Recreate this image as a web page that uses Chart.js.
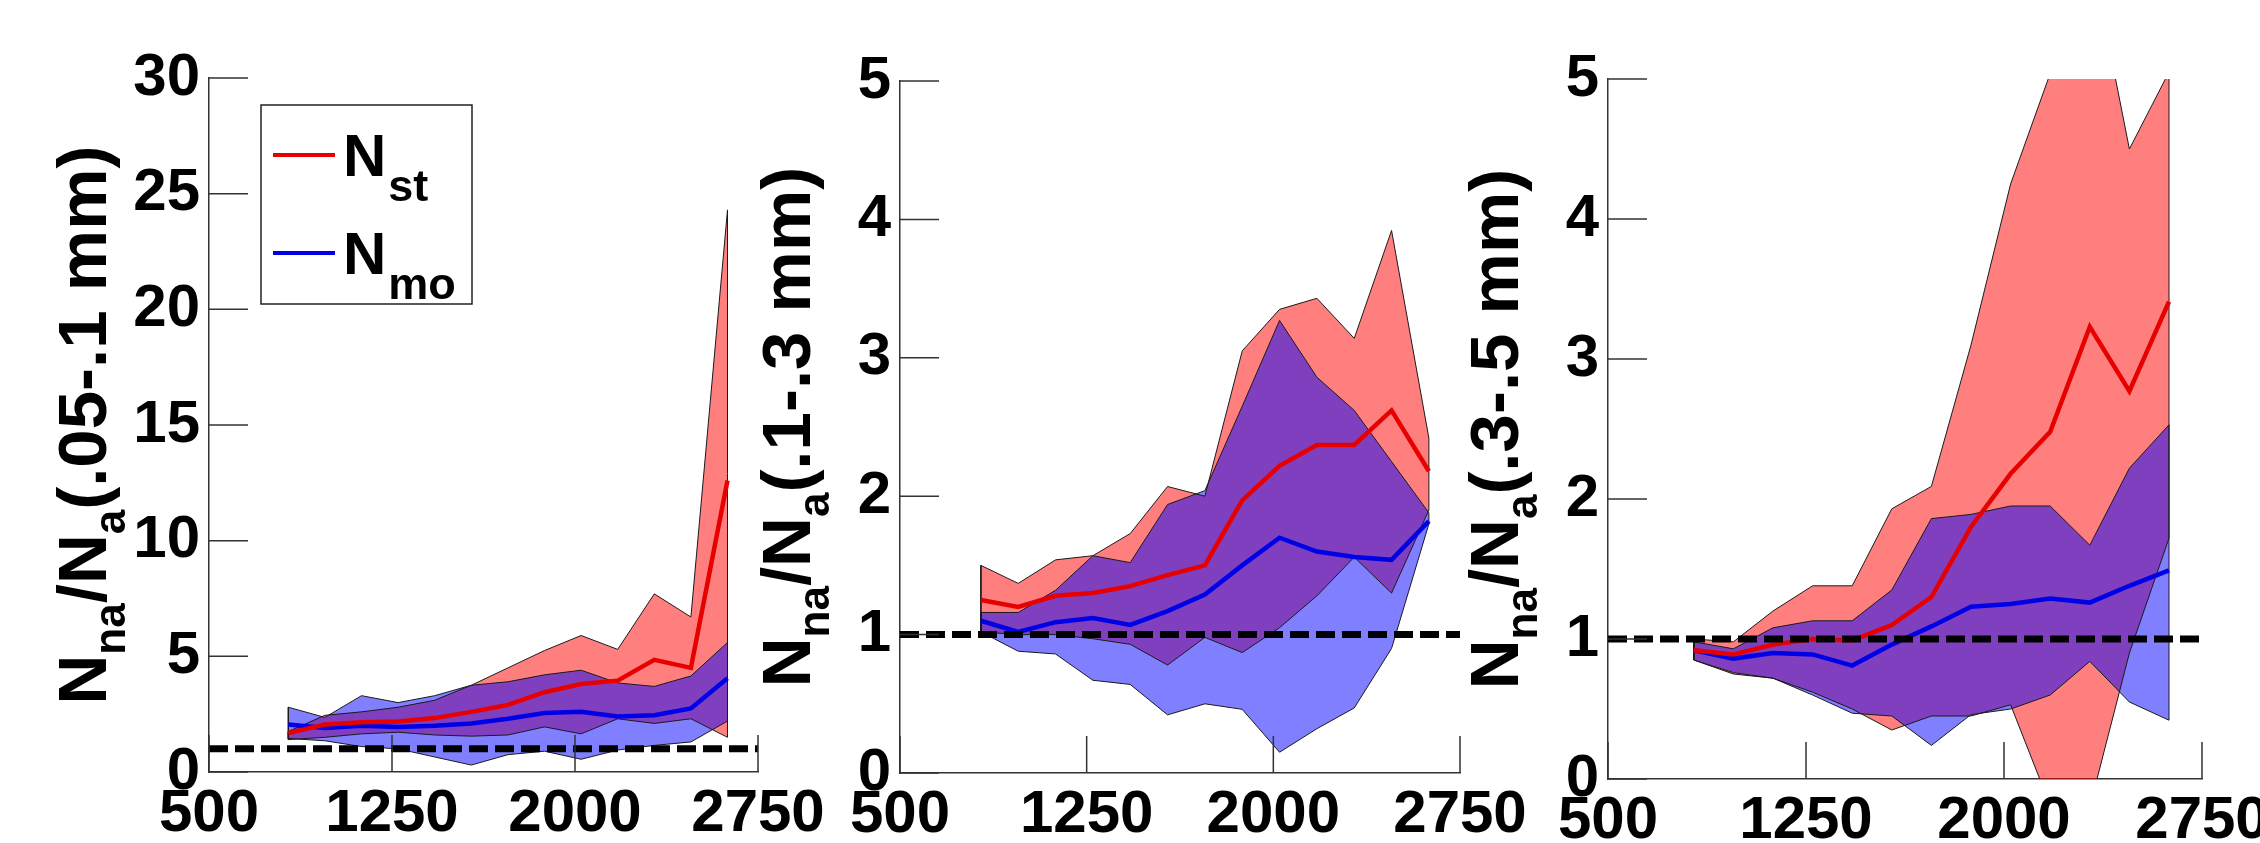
<!DOCTYPE html>
<html>
<head>
<meta charset="utf-8">
<script src="https://cdn.jsdelivr.net/npm/chart.js@4.4.1/dist/chart.umd.min.js"></script>
<style>
  html, body { margin: 0; padding: 0; background: #fff; }
  #wrap { position: relative; width: 2260px; height: 843px; }
  #wrap canvas { position: absolute; left: 0; top: 0; }
</style>
</head>
<body>
<div id="wrap">
  <canvas id="c1" width="2260" height="843"></canvas>
  <canvas id="c2" width="2260" height="843"></canvas>
  <canvas id="c3" width="2260" height="843"></canvas>
</div>
<script>
// shared x positions of the size-class bins
const xVals = [825, 975, 1125, 1275, 1425, 1575, 1725, 1875, 2025, 2175, 2325, 2475, 2625];
const xTicks = [500, 1250, 2000, 2750];
const refLevel = 1;

// panel 1: .05-.1 mm
const stMean1 = [1.68, 2.05, 2.15, 2.18, 2.33, 2.6, 2.9, 3.45, 3.8, 3.95, 4.85, 4.5, 12.6];
const stHigh1 = [1.75, 2.45, 2.6, 2.8, 3.1, 3.75, 4.5, 5.25, 5.9, 5.3, 7.7, 6.7, 24.3];
const stLow1  = [1.4, 1.5, 1.65, 1.72, 1.6, 1.55, 1.6, 1.95, 1.65, 2.3, 2.1, 2.3, 1.5];
const moMean1 = [2.05, 1.9, 2.0, 1.95, 2.0, 2.1, 2.3, 2.55, 2.6, 2.4, 2.45, 2.75, 4.05];
const moHigh1 = [2.8, 2.36, 3.3, 3.0, 3.3, 3.75, 3.9, 4.2, 4.4, 3.85, 3.7, 4.15, 5.6];
const moLow1  = [1.45, 1.35, 1.1, 1.0, 0.65, 0.3, 0.75, 0.9, 0.55, 0.95, 1.15, 1.3, 2.2];
const yTicks1 = [0, 5, 10, 15, 20, 25, 30];

// panel 2: .1-.3 mm
const stMean2 = [1.25, 1.2, 1.28, 1.3, 1.35, 1.43, 1.5, 1.97, 2.22, 2.37, 2.37, 2.62, 2.18];
const stHigh2 = [1.5, 1.37, 1.54, 1.57, 1.73, 2.07, 2.0, 3.05, 3.35, 3.43, 3.14, 3.92, 2.42];
const stLow2  = [1.02, 1.0, 1.0, 0.97, 0.93, 0.78, 0.98, 0.87, 1.05, 1.28, 1.56, 1.3, 1.9];
const moMean2 = [1.1, 1.02, 1.09, 1.12, 1.07, 1.17, 1.29, 1.5, 1.7, 1.6, 1.56, 1.54, 1.82];
const moHigh2 = [1.16, 1.16, 1.32, 1.57, 1.52, 1.94, 2.04, 2.65, 3.27, 2.86, 2.62, 2.25, 1.88];
const moLow2  = [1.02, 0.88, 0.86, 0.67, 0.64, 0.42, 0.5, 0.46, 0.15, 0.32, 0.47, 0.9, 1.8];

// panel 3: .3-.5 mm
const stMean3 = [0.92, 0.89, 0.96, 1.0, 0.99, 1.1, 1.3, 1.8, 2.18, 2.48, 3.23, 2.77, 3.41];
const stHigh3 = [1.0, 0.98, 1.2, 1.38, 1.38, 1.93, 2.09, 3.1, 4.25, 5.04, 5.93, 4.5, 5.05];
const stLow3  = [0.85, 0.75, 0.72, 0.62, 0.5, 0.35, 0.45, 0.45, 0.53, -0.19, -0.2, 0.9, 1.72];
const moMean3 = [0.92, 0.86, 0.9, 0.89, 0.81, 0.96, 1.09, 1.23, 1.25, 1.29, 1.26, 1.38, 1.49];
const moHigh3 = [0.98, 0.93, 1.08, 1.13, 1.13, 1.35, 1.86, 1.89, 1.95, 1.95, 1.67, 2.22, 2.53];
const moLow3  = [0.85, 0.76, 0.72, 0.6, 0.47, 0.45, 0.24, 0.46, 0.5, 0.6, 0.84, 0.55, 0.42];
const yTicks2 = [0, 1, 2, 3, 4, 5];

const FONT = "'Liberation Sans', Arial, sans-serif";
const tickFont = { family: FONT, size: 60, weight: 'bold' };

const pts = arr => arr.map((v, i) => ({ x: xVals[i], y: v }));

function band(hi, lo, fillColor, ord) {
  // closed outline of the band polygon
  const outline = pts(lo).concat(pts(hi).reverse());
  outline.push(outline[0]);
  return [
    { data: pts(hi), fill: '+1', backgroundColor: fillColor, borderColor: 'rgba(0,0,0,0)', borderWidth: 0, pointRadius: 0, order: ord },
    { data: pts(lo), fill: false, borderColor: 'rgba(0,0,0,0)', borderWidth: 0, pointRadius: 0, order: ord },
    { data: outline, fill: false, borderColor: '#1a1a1a', borderWidth: 1, pointRadius: 0, order: ord - 1 }
  ];
}

// inward ticks, rotated y title with subscripts, legend
const deco = {
  id: 'deco',
  afterDatasetsDraw(chart, args, o) {
    const { ctx, chartArea: a, scales: { x, y } } = chart;
    ctx.save();
    ctx.strokeStyle = '#333';
    ctx.lineWidth = 1.5;
    ctx.beginPath();
    x.ticks.forEach(t => {
      const px = x.getPixelForValue(t.value);
      ctx.moveTo(px, a.bottom);
      ctx.lineTo(px, a.bottom - o.tickLen);
    });
    y.ticks.forEach(t => {
      const py = y.getPixelForValue(t.value);
      ctx.moveTo(a.left, py);
      ctx.lineTo(a.left + o.tickLen + 2, py);
    });
    ctx.stroke();
    ctx.restore();
  },
  afterDraw(chart, args, o) {
    const { ctx, chartArea: a } = chart;
    // y title
    const big = `bold ${o.titleSize}px ${FONT}`;
    const small = `bold ${o.subSize}px ${FONT}`;
    ctx.save();
    ctx.fillStyle = '#000';
    ctx.textBaseline = 'alphabetic';
    ctx.textAlign = 'left';
    let total = 0;
    o.title.forEach(s => { ctx.font = s.sub ? small : big; total += ctx.measureText(s.t).width; });
    ctx.translate(a.left - o.titleGap, (a.top + a.bottom) / 2);
    ctx.rotate(-Math.PI / 2);
    let cx = -total / 2;
    o.title.forEach(s => {
      ctx.font = s.sub ? small : big;
      ctx.fillText(s.t, cx, s.sub ? o.subShift : 0);
      cx += ctx.measureText(s.t).width;
    });
    ctx.restore();

    if (!o.legend) return;
    const L = o.legend;
    ctx.save();
    ctx.fillStyle = '#fff';
    ctx.fillRect(L.x, L.y, L.w, L.h);
    ctx.strokeStyle = '#222';
    ctx.lineWidth = 1.5;
    ctx.strokeRect(L.x, L.y, L.w, L.h);
    L.items.forEach((it, i) => {
      const ly = L.y + L.firstRow + i * L.rowGap;
      ctx.strokeStyle = it.color;
      ctx.lineWidth = 4;
      ctx.beginPath();
      ctx.moveTo(L.x + 12, ly);
      ctx.lineTo(L.x + 74, ly);
      ctx.stroke();
      ctx.fillStyle = '#000';
      ctx.font = `bold 60px ${FONT}`;
      ctx.textBaseline = 'alphabetic';
      ctx.fillText('N', L.x + 82, ly + 21);
      const w = ctx.measureText('N').width;
      ctx.font = `bold 45px ${FONT}`;
      ctx.fillText(it.sub, L.x + 84 + w, ly + 46);
    });
    ctx.restore();
  }
};

function makePanel(id, area, yTicks, sets, decoOpts) {
  const yW = 130;
  const xH = 843 - area.bottom;
  const [stHigh, stLow, stMean, moHigh, moLow, moMean] = sets;
  const datasets = [
    ...band(stHigh, stLow, 'rgba(255,0,0,0.5)', 20),
    ...band(moHigh, moLow, 'rgba(0,0,255,0.5)', 10),
    { data: pts(moMean), borderColor: '#0000e6', borderWidth: 4.5, fill: false, pointRadius: 0, order: 3 },
    { data: pts(stMean), borderColor: '#e60000', borderWidth: 4.5, fill: false, pointRadius: 0, order: 2 },
    { data: [{ x: xTicks[0], y: refLevel }, { x: xTicks[xTicks.length - 1], y: refLevel }],
      borderColor: '#000', borderWidth: 7, borderDash: [19, 7], fill: false, pointRadius: 0, order: 1 }
  ];
  new Chart(document.getElementById(id), {
    type: 'line',
    data: { datasets },
    options: {
      responsive: false,
      animation: false,
      devicePixelRatio: 1,
      layout: { padding: { left: area.left - yW, right: 2260 - area.right, top: area.top, bottom: 0 } },
      plugins: {
        legend: { display: false },
        tooltip: { enabled: false },
        filler: { drawTime: 'beforeDatasetsDraw' },
        deco: decoOpts
      },
      scales: {
        x: {
          type: 'linear', min: xTicks[0], max: xTicks[xTicks.length - 1],
          afterBuildTicks: s => { s.ticks = xTicks.map(v => ({ value: v })); },
          afterFit: s => { s.height = xH; s.paddingLeft = 0; s.paddingRight = 0; },
          ticks: { font: tickFont, color: '#000', padding: 6, maxRotation: 0, autoSkip: false, callback: v => String(v) },
          grid: { display: false, drawTicks: false },
          border: { display: true, color: '#333', width: 1.5 }
        },
        y: {
          min: yTicks[0], max: yTicks[yTicks.length - 1],
          afterBuildTicks: s => { s.ticks = yTicks.map(v => ({ value: v })); },
          afterFit: s => { s.width = yW; s.paddingTop = 0; s.paddingBottom = 0; },
          ticks: { font: tickFont, color: '#000', padding: 9, autoSkip: false, callback: v => String(v) },
          grid: { display: false, drawTicks: false },
          border: { display: true, color: '#333', width: 1.5 }
        }
      }
    },
    plugins: [deco]
  });
}

const titleParts = range => [
  { t: 'N' }, { t: 'na', sub: true }, { t: '/N' }, { t: 'a', sub: true }, { t: range }
];

makePanel('c1', { left: 209, right: 758, top: 78, bottom: 772 }, yTicks1,
  [stHigh1, stLow1, stMean1, moHigh1, moLow1, moMean1],
  { tickLen: 37, title: titleParts('(.05-.1 mm)'), titleSize: 69, subSize: 44, subShift: 19, titleGap: 103,
    legend: { x: 261, y: 105, w: 211, h: 199, firstRow: 50, rowGap: 98,
      items: [{ color: '#e60000', sub: 'st' }, { color: '#0000e6', sub: 'mo' }] } });

makePanel('c2', { left: 900, right: 1460, top: 81, bottom: 773 }, yTicks2,
  [stHigh2, stLow2, stMean2, moHigh2, moLow2, moMean2],
  { tickLen: 37, title: titleParts('(.1-.3 mm)'), titleSize: 69, subSize: 44, subShift: 19, titleGap: 90 });

makePanel('c3', { left: 1608, right: 2202, top: 79, bottom: 779 }, yTicks2,
  [stHigh3, stLow3, stMean3, moHigh3, moLow3, moMean3],
  { tickLen: 37, title: titleParts('(.3-.5 mm)'), titleSize: 69, subSize: 44, subShift: 19, titleGap: 90 });
</script>
</body>
</html>
